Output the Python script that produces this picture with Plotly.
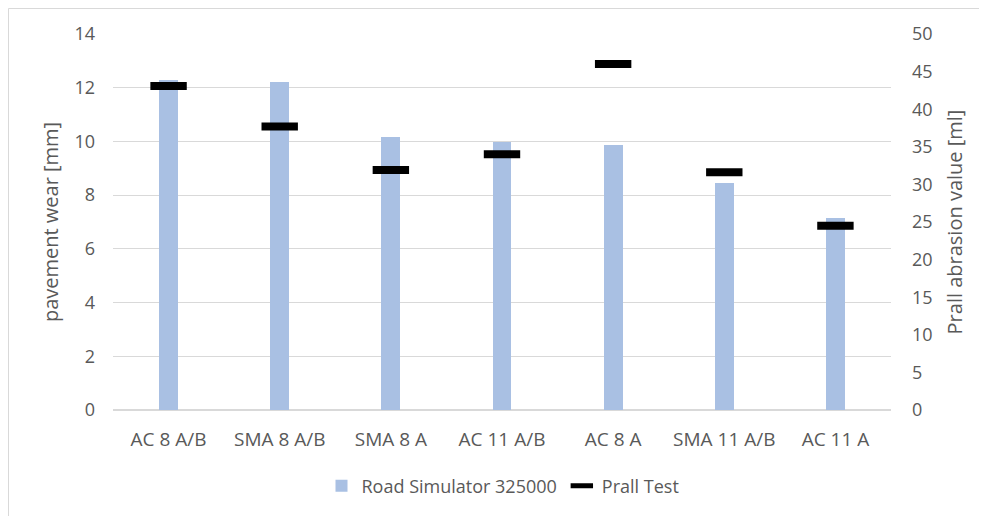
import plotly.graph_objects as go

categories = ["AC 8 A/B", "SMA 8 A/B", "SMA 8 A", "AC 11 A/B", "AC 8 A", "SMA 11 A/B", "AC 11 A"]
road_simulator = [12.3, 12.2, 10.15, 9.98, 9.88, 8.45, 7.15]
prall_test = [43.1, 37.7, 31.9, 34.0, 46.0, 31.6, 24.5]
left_ticks = [0, 2, 4, 6, 8, 10, 12, 14]
right_ticks = [0, 5, 10, 15, 20, 25, 30, 35, 40, 45, 50]

font_family = "Open Sans, Liberation Sans, sans-serif"
tick_color = "#595959"

fig = go.Figure()
fig.add_trace(go.Bar(
    x=categories, y=road_simulator, name="Road Simulator 325000",
    marker=dict(color="#A9C0E3", line=dict(width=0)), width=0.17, yaxis="y",
))
fig.add_trace(go.Scatter(
    x=categories, y=prall_test, name="Prall Test", mode="markers", yaxis="y2",
    marker=dict(symbol="line-ew", size=26, color="black",
                line=dict(color="black", width=8)),
))

# page has an 8px body offset; compensate
OX, OY = 8, 8
W, H = 987, 516
L, T = 113 - OX, 34 - OY
pw, ph = 778, 376
R = W - L - pw
B = H - T - ph
bx = (0.5 - L) / pw
by = 1 + (T - 0.5) / ph

fig.update_layout(
    width=W, height=H,
    margin=dict(l=L, r=R, t=T, b=B, autoexpand=False),
    paper_bgcolor="white", plot_bgcolor="white",
    font=dict(family=font_family, color=tick_color, size=18),
    bargap=0,
    showlegend=True,
    legend=dict(orientation="h", x=0.5 + 1 / pw, xanchor="center", y=-(486 - 410) / ph, yanchor="middle",
                font=dict(size=18, color=tick_color), itemwidth=30),
    xaxis=dict(showgrid=False, showline=False, ticks="", ticklabelstandoff=16,
               tickfont=dict(size=19, color=tick_color)),
    yaxis=dict(range=[0, 14], tickvals=left_ticks, showgrid=True, gridcolor="#D9D9D9",
               gridwidth=1, zeroline=True, zerolinecolor="#D9D9D9", showline=False,
               ticks="", ticklabelstandoff=17,
               title=dict(text="pavement wear [mm]", font=dict(size=20, color=tick_color), standoff=10),
               tickfont=dict(size=18, color=tick_color)),
    yaxis2=dict(range=[0, 50], tickvals=right_ticks, overlaying="y", side="right",
                showgrid=False, zeroline=False, showline=False, ticks="",
                ticklabelstandoff=20,
                title=dict(text="Prall abrasion value [ml]", font=dict(size=20, color=tick_color), standoff=16),
                tickfont=dict(size=18, color=tick_color)),
    shapes=[
        dict(type="line", xref="paper", yref="paper", x0=bx, x1=bx, y0=by, y1=-0.5,
             line=dict(color="#D9D9D9", width=1)),
        dict(type="line", xref="paper", yref="paper", x0=bx, x1=1.5, y0=by, y1=by,
             line=dict(color="#D9D9D9", width=1)),
    ],
)

fig.write_html("out.html")
